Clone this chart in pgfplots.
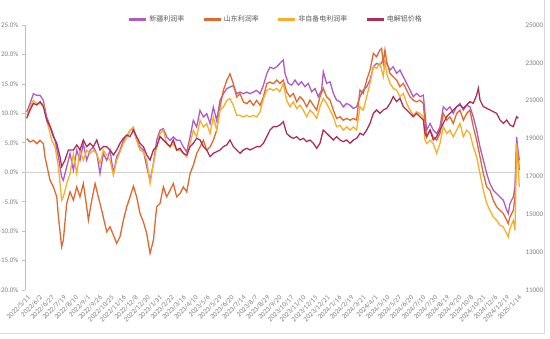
\documentclass[border=0pt]{standalone}
\usepackage{fontspec}
\setmainfont{Carlito}
\newfontfamily\cjk{Noto Sans CJK SC}
\usepackage{pgfplots}
\pgfplotsset{compat=1.18}
\definecolor{cXJ}{HTML}{AD5CC7}
\definecolor{cSD}{HTML}{E0692F}
\definecolor{cFZ}{HTML}{F9AE2A}
\definecolor{cAL}{HTML}{AF2D56}
\definecolor{tickgray}{HTML}{7F7F7F}
\definecolor{leggray}{HTML}{595959}
\definecolor{framegray}{HTML}{D9D9D9}
\begin{document}
\begin{tikzpicture}[x=1pt,y=1pt]
\path[use as bounding box] (0,0) rectangle (550,339);
\draw[framegray, line width=1pt] (0,5) -- (544,5) -- (544,339);
\begin{axis}[
  at={(25pt,49pt)}, anchor=south west,
  scale only axis, width=495pt, height=265pt,
  xmin=-0.17, xmax=41.15, ymin=-20, ymax=25,
  axis y line*=left, axis x line*=bottom,
  x axis line style={draw=none},
  y axis line style={draw=gray!50, line width=0.6pt},
  xtick={0,...,41},
  xticklabels={2022/5/11,2022/6/2,2022/6/27,2022/7/19,2022/8/10,2022/9/1,2022/9/26,2022/10/25,2022/11/16,2022/12/8,2022/12/30,2023/1/31,2023/2/22,2023/3/16,2023/4/10,2023/5/6,2023/5/29,2023/6/20,2023/7/14,2023/8/7,2023/8/29,2023/9/20,2023/10/17,2023/11/10,2023/12/15,2023/12/21,2024/1/16,2024/2/19,2024/3/21,2024/4/1,2024/5/10,2024/5/27,2024/6/20,2024/7/10,2024/7/30,2024/8/19,2024/9/20,2024/10/8,2024/10/31,2024/12/6,2024/12/19,2025/1/14},
  xtick style={draw=none},
  x tick label style={rotate=45, anchor=east, inner sep=1pt, yshift=-4pt},
  ytick={-20,-15,...,25},
  ytick style={draw=gray!50, line width=0.6pt},
  tick align=outside, major tick length=3pt,
  yticklabel={\pgfmathprintnumber[fixed,fixed zerofill,precision=1]{\tick}\%},
  /pgf/number format/assume math mode=true,
  every tick label/.append style={font=\fontsize{7}{8}\selectfont, text=tickgray},
  clip=false,
]
\addplot[gray!35, line width=1pt, forget plot] coordinates {(-0.17,0) (41.15,0)};
% Xinjiang (purple)
\addplot[cXJ, line width=1.3pt] coordinates {
(-0.03,10.23)(0.25,11.64)(0.53,13.33)(0.81,13.05)(1.09,13.05)(1.36,12.20)(1.64,9.38)(2.06,7.12)(2.34,5.42)(2.62,2.60)(2.89,-0.79)(3.03,-1.36)(3.31,0.90)(3.59,3.16)(3.87,0.34)(4.15,3.73)(4.42,2.03)(4.70,4.86)(4.98,2.03)(5.26,3.73)(5.54,4.29)(5.82,3.16)(6.09,-0.23)(6.37,3.16)(6.65,2.03)(6.93,3.73)(7.21,-0.23)(7.48,2.60)(7.76,3.73)(8.04,5.42)(8.32,5.99)(8.60,7.12)(8.88,7.40)(9.15,5.42)(9.43,4.29)(9.71,3.73)(9.99,0.90)(10.27,-1.36)(10.55,1.47)(10.82,5.42)(11.10,7.12)(11.38,7.40)(11.66,5.99)(11.94,5.42)(12.21,5.99)(12.49,5.42)(12.77,5.42)(13.05,4.29)(13.33,3.45)(13.61,5.99)(13.88,8.81)(14.16,7.68)(14.44,10.51)(14.72,9.38)(15.00,9.94)(15.28,8.25)(15.55,11.07)(15.83,8.81)(16.11,12.20)(16.39,13.33)(16.67,14.18)(16.94,14.46)(17.22,14.75)(17.50,13.33)(17.78,13.62)(18.06,13.33)(18.34,13.62)(18.61,13.33)(18.89,13.62)(19.17,13.90)(19.45,13.33)(19.73,14.75)(20.01,16.72)(20.28,17.85)(20.56,17.57)
(20.84,17.91)(21.11,18.48)(21.39,19.05)(21.53,16.78)(21.81,15.08)(22.09,14.80)(22.37,15.65)(22.65,14.80)(22.92,15.36)(23.20,14.51)(23.48,15.08)(23.76,13.66)(24.04,14.23)(24.31,12.81)(24.59,13.95)(24.73,17.06)(25.01,15.08)(25.29,15.36)(25.57,13.38)(25.84,12.24)(26.12,11.96)(26.40,11.11)(26.68,11.68)(26.96,11.39)(27.24,10.83)(27.51,11.11)(27.79,12.81)(28.07,13.95)(28.35,14.51)(28.63,15.65)(28.91,17.91)(29.18,18.48)(29.46,18.20)(29.74,19.05)(30.02,18.48)(30.30,17.35)(30.57,17.91)(30.85,16.78)(31.13,17.35)(31.41,16.21)(31.69,15.08)(31.97,13.95)(32.24,12.81)(32.52,13.38)(32.80,12.81)(33.08,13.10)(33.22,9.98)(33.36,7.14)(33.64,8.28)(33.91,7.14)(34.19,6.58)(34.47,7.71)(34.75,11.11)(35.03,10.54)(35.30,11.11)(35.58,9.98)(35.86,11.11)(36.14,11.68)(36.42,10.54)(36.70,11.39)(36.97,11.11)(37.25,9.41)(37.53,7.14)(37.81,4.31)(38.09,2.04)(38.37,-0.23)(38.64,-1.93)(38.92,-3.06)(39.20,-3.63)(39.48,-4.20)(39.76,-4.76)(40.04,-6.46)(40.17,-7.03)(40.31,-5.33)(40.59,-4.20)(40.73,-2.49)(40.87,6.01)(41.01,3.17)(41.09,2.04)
};
% Shandong (orange)
\addplot[cSD, line width=1.3pt] coordinates {
(-0.03,5.71)(0.25,5.14)(0.53,5.42)(0.81,4.86)(1.09,5.42)(1.36,4.86)(1.50,2.60)(1.92,-1.36)(2.20,-2.49)(2.48,-4.18)(2.62,-7.57)(2.89,-12.66)(3.03,-11.53)(3.31,-5.31)(3.59,-3.33)(3.87,-4.75)(4.15,-2.49)(4.42,-4.18)(4.70,-1.92)(4.98,-5.88)(5.12,-8.14)(5.40,-4.75)(5.68,-1.92)(5.95,-4.18)(6.23,-6.44)(6.65,-10.11)(6.93,-9.27)(7.21,-10.68)(7.48,-12.09)(7.76,-10.96)(8.04,-8.14)(8.32,-5.88)(8.60,-4.18)(8.88,-2.37)(9.15,-4.18)(9.43,-7.01)(9.71,-8.42)(9.99,-10.40)(10.27,-13.79)(10.55,-11.53)(10.82,-5.88)(11.10,-5.31)(11.38,-2.49)(11.66,-4.18)(11.94,-3.05)(12.21,-1.92)(12.49,-4.18)(12.77,-3.62)(13.05,-2.49)(13.33,-3.33)(13.61,-0.23)(13.88,1.19)(14.16,3.16)(14.44,4.29)(14.72,5.42)(15.00,3.73)(15.28,4.29)(15.55,5.42)(15.83,7.12)(16.11,11.07)(16.39,13.90)(16.67,15.59)(16.94,16.72)(17.22,15.03)(17.50,12.77)(17.78,13.33)(18.06,11.92)(18.34,11.64)(18.61,12.20)(18.89,11.36)(19.17,12.20)(19.45,11.36)(19.73,12.77)(20.01,15.03)(20.28,15.31)(20.56,15.03)
(20.84,15.65)(21.11,15.08)(21.39,15.65)(21.67,13.66)(21.95,12.81)(22.23,13.38)(22.51,11.96)(22.78,12.81)(23.06,12.24)(23.34,11.11)(23.62,12.24)(23.90,11.39)(24.18,10.54)(24.45,12.81)(24.73,14.23)(25.01,12.81)(25.29,12.24)(25.57,10.54)(25.84,9.13)(26.12,9.41)(26.40,8.84)(26.68,9.13)(26.96,8.84)(27.24,9.13)(27.51,8.84)(27.79,13.95)(28.07,13.38)(28.35,15.65)(28.63,17.35)(28.91,20.18)(29.18,19.61)(29.46,20.75)(29.60,21.03)(29.74,18.48)(29.88,20.75)(30.02,18.76)(30.30,16.78)(30.57,16.21)(30.85,15.65)(31.13,14.51)(31.41,15.08)(31.69,13.95)(31.97,12.81)(32.24,12.24)(32.52,11.96)(32.80,12.24)(33.08,11.68)(33.22,8.28)(33.36,6.01)(33.64,7.14)(33.91,6.01)(34.19,5.44)(34.47,6.58)(34.75,9.98)(35.03,8.84)(35.30,9.41)(35.58,8.28)(35.86,9.98)(36.14,10.54)(36.42,8.84)(36.70,9.98)(36.97,10.54)(37.25,7.71)(37.53,5.44)(37.81,2.61)(38.09,-0.23)(38.37,-2.49)(38.64,-3.06)(38.92,-4.76)(39.20,-5.90)(39.48,-6.46)(39.76,-7.03)(40.04,-8.16)(40.17,-8.73)(40.31,-7.60)(40.59,-6.46)(40.73,-4.20)(40.87,4.31)(41.01,2.61)(41.09,0.34)
};
% Non-captive power (yellow)
\addplot[cFZ, line width=1.3pt] coordinates {
(-0.03,9.66)(0.25,11.07)(0.53,12.20)(0.81,11.64)(1.09,11.64)(1.36,11.64)(1.64,8.81)(2.06,5.42)(2.34,4.29)(2.62,0.90)(2.89,-4.75)(3.03,-4.18)(3.31,-1.92)(3.59,-0.23)(3.87,3.16)(4.15,-0.23)(4.42,3.73)(4.70,2.03)(4.98,3.73)(5.26,3.16)(5.54,3.73)(5.82,3.16)(6.09,1.47)(6.37,3.73)(6.65,2.88)(6.93,2.03)(7.21,-0.51)(7.48,2.03)(7.76,3.45)(8.04,4.86)(8.32,5.99)(8.60,7.12)(8.88,7.68)(9.15,5.42)(9.43,3.73)(9.71,3.45)(9.99,2.03)(10.27,-1.92)(10.55,1.47)(10.82,4.29)(11.10,6.55)(11.38,7.12)(11.66,4.86)(11.94,4.29)(12.21,4.86)(12.49,3.73)(12.77,3.73)(13.05,3.16)(13.33,2.60)(13.61,4.86)(13.88,7.12)(14.16,5.99)(14.44,8.81)(14.72,7.68)(15.00,8.25)(15.28,6.55)(15.55,9.38)(15.83,7.12)(16.11,10.51)(16.39,11.07)(16.67,12.20)(16.94,12.49)(17.22,11.36)(17.50,9.66)(17.78,9.66)(18.06,9.38)(18.34,9.66)(18.61,9.38)(18.89,9.66)(19.17,9.38)(19.45,10.23)(19.73,12.49)(20.01,13.90)(20.28,14.18)(20.56,13.90)
(20.84,14.23)(21.11,13.66)(21.39,15.08)(21.67,12.24)(21.95,11.11)(22.23,11.96)(22.51,10.83)(22.78,11.39)(23.06,10.54)(23.34,9.41)(23.62,10.54)(23.90,9.98)(24.18,9.13)(24.45,11.11)(24.73,12.53)(25.01,11.68)(25.29,10.54)(25.57,9.41)(25.84,7.71)(26.12,7.99)(26.40,7.14)(26.68,7.71)(26.96,7.14)(27.24,7.71)(27.51,7.14)(27.79,11.11)(28.07,10.54)(28.35,12.81)(28.63,15.08)(28.91,17.91)(29.18,17.63)(29.46,18.48)(29.74,16.21)(29.88,18.76)(30.02,16.78)(30.30,15.08)(30.57,14.23)(30.85,13.95)(31.13,12.81)(31.41,13.38)(31.69,11.68)(31.97,10.54)(32.24,9.69)(32.52,10.26)(32.80,9.98)(33.08,9.41)(33.22,5.44)(33.36,4.88)(33.64,5.44)(33.91,4.88)(34.19,3.17)(34.47,4.88)(34.75,7.71)(35.03,6.58)(35.30,7.14)(35.58,6.01)(35.86,7.14)(36.14,8.28)(36.42,6.01)(36.70,7.14)(36.97,6.58)(37.25,4.31)(37.53,2.61)(37.81,-0.23)(38.09,-3.06)(38.37,-5.33)(38.64,-6.46)(38.92,-7.60)(39.20,-8.16)(39.48,-9.01)(39.76,-9.30)(40.04,-10.43)(40.17,-11.00)(40.31,-9.58)(40.59,-8.16)(40.73,-9.86)(40.87,4.88)(41.01,0.34)(41.09,-2.49)
};
\end{axis}
\begin{axis}[
  at={(25pt,49pt)}, anchor=south west,
  scale only axis, width=495pt, height=265pt,
  xmin=-0.17, xmax=41.15, ymin=11000, ymax=25000,
  axis y line*=right, axis x line=none,
  y axis line style={draw=none},
  ytick={11000,13000,...,25000},
  ytick style={draw=none},
  scaled y ticks=false,
  yticklabel={\pgfmathprintnumber[fixed,precision=0,1000 sep={}]{\tick}},
  /pgf/number format/assume math mode=true,
  every tick label/.append style={font=\fontsize{7}{8}\selectfont, text=tickgray},
  yticklabel style={xshift=2pt},
  legend columns=4,
  legend style={draw=none, fill=none, at={(0.507,1.02)}, anchor=center,
    font=\cjk\fontsize{7}{8}\selectfont, text=leggray,
    /tikz/every even column/.append style={column sep=16pt}},
  legend image code/.code={\draw[#1] (0pt,0pt) -- (17pt,0pt);},
  clip=false,
]
\addlegendimage{cXJ, line width=2.5pt}\addlegendentry{新疆利润率}
\addlegendimage{cSD, line width=2.5pt}\addlegendentry{山东利润率}
\addlegendimage{cFZ, line width=2.5pt}\addlegendentry{非自备电利润率}
\addlegendimage{cAL, line width=2.5pt}\addlegendentry{电解铝价格}
\addplot[cAL, line width=1.3pt, forget plot] coordinates {
(-0.03,20070)(0.25,20510)(0.53,20862)(0.81,20774)(1.09,20950)(1.36,20686)(1.64,19982)(1.92,19630)(2.20,19101)(2.48,18749)(2.75,18045)(2.89,17516)(3.17,17868)(3.45,18397)(3.87,18397)(4.15,18661)(4.42,18397)(4.70,18925)(4.98,18573)(5.26,18749)(5.54,18573)(5.82,18925)(6.09,18397)(6.37,18573)(6.65,18573)(6.93,18397)(7.21,18132)(7.48,18397)(7.76,18749)(8.04,19013)(8.32,19189)(8.60,19101)(8.88,19453)(9.15,19101)(9.43,18749)(9.71,18573)(9.99,18132)(10.27,17868)(10.55,18397)(10.82,18573)(11.10,19101)(11.38,18925)(11.66,18749)(11.94,18573)(12.21,18925)(12.49,18397)(12.77,18485)(13.05,18221)(13.33,18132)(13.61,18573)(13.88,18749)(14.16,19013)(14.44,18925)(14.72,18573)(15.00,18397)(15.28,18045)(15.55,18221)(15.83,18309)(16.11,18397)(16.39,18573)(16.67,18661)(16.94,18925)(17.22,18573)(17.50,18397)(17.78,18221)(18.06,18397)(18.34,18485)(18.61,18397)(18.89,18485)(19.17,18573)(19.45,18573)(19.73,18749)(20.01,19101)(20.28,19453)(20.56,19630)
(20.84,19629)(21.11,19717)(21.39,19893)(21.67,19277)(21.95,19101)(22.23,19013)(22.51,19101)(22.78,18925)(23.06,19013)(23.34,18837)(23.62,18925)(23.90,18749)(24.18,18484)(24.45,18749)(24.73,19453)(25.01,19277)(25.29,19101)(25.57,18925)(25.84,19101)(26.12,18925)(26.40,18837)(26.68,18925)(26.96,18749)(27.24,18925)(27.51,19013)(27.79,19277)(28.07,19189)(28.35,19453)(28.63,19805)(28.91,20334)(29.18,20510)(29.46,20334)(29.74,20510)(30.02,20598)(30.30,20862)(30.57,21214)(30.85,20950)(31.13,21126)(31.41,20686)(31.69,20510)(31.97,20334)(32.24,20157)(32.52,20334)(32.80,20157)(33.08,19981)(33.22,19277)(33.36,19101)(33.64,19453)(33.91,18925)(34.19,19101)(34.47,19453)(34.75,19805)(35.03,20157)(35.30,20334)(35.58,20510)(35.86,20686)(36.14,20774)(36.42,20598)(36.70,20774)(36.97,20950)(37.25,20862)(37.53,21302)(37.67,21654)(37.81,21038)(38.09,20686)(38.37,20598)(38.64,20510)(38.92,20422)(39.20,20334)(39.48,19981)(39.76,19805)(40.04,19981)(40.31,19717)(40.59,19629)(40.87,20157)(41.01,20069)
};
\end{axis}
\end{tikzpicture}
\end{document}
